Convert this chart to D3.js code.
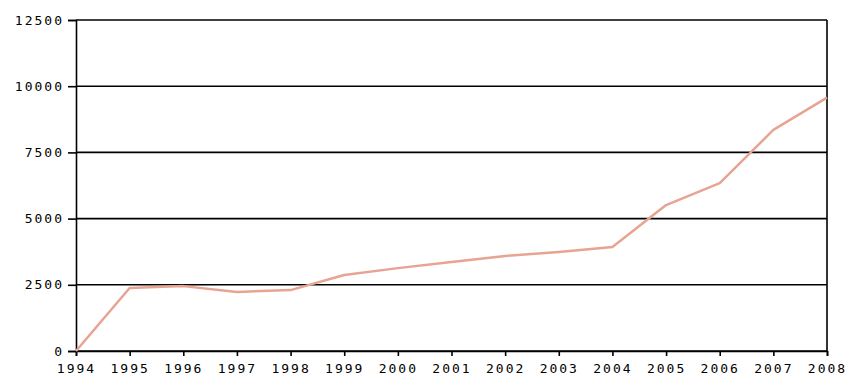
<!DOCTYPE html>
<html>
  <head>
    <meta charset="utf-8">
    <script src="https://cdn.jsdelivr.net/npm/d3@7"></script>
    <style>
body { margin: 0; background: #fff; }
.tick text {
  font-family: "DejaVu Sans Mono", monospace;
  font-size: 13px;
  letter-spacing: 2px;
  fill: #000;
}
.grid line { stroke: #000; stroke-width: 1.6px; }
.series { fill: none; stroke: #e8a393; stroke-width: 2.5px; stroke-linejoin: round; }
    </style>
  </head>
  <body>
    <script>

var years = [1994, 1995, 1996, 1997, 1998, 1999, 2000, 2001, 2002, 2003, 2004, 2005, 2006, 2007, 2008];
var values = [0, 2380, 2450, 2230, 2300, 2870, 3130, 3360, 3590, 3740, 3930, 5510, 6340, 8350, 9570];
var yTicks = [0, 2500, 5000, 7500, 10000, 12500];

var width = 863, height = 390;
var margin = {left: 76, right: 36, top: 20, bottom: 39};

var svg = d3.select("body").append("svg")
    .attr("width", width)
    .attr("height", height);

var x = d3.scaleLinear()
    .domain([years[0], years[years.length - 1]])
    .range([margin.left, width - margin.right]);

var y = d3.scaleLinear()
    .domain([0, 12500])
    .range([height - margin.bottom, margin.top]);

// horizontal grid
svg.append("g").attr("class", "grid")
  .selectAll("line").data(yTicks).enter().append("line")
    .attr("x1", margin.left).attr("x2", width - margin.right)
    .attr("y1", function(d) { return y(d); })
    .attr("y2", function(d) { return y(d); });

// right border
svg.append("line")
    .attr("x1", x(2008)).attr("x2", x(2008))
    .attr("y1", y(0)).attr("y2", y(12500))
    .attr("stroke", "#000").attr("stroke-width", 1.6);

var yAxis = svg.append("g")
    .attr("transform", "translate(" + margin.left + ",0)")
    .call(d3.axisLeft(y).tickValues(yTicks).tickSize(8).tickPadding(4).tickFormat(d3.format("d")));

var xAxis = svg.append("g")
    .attr("transform", "translate(0," + y(0) + ")")
    .call(d3.axisBottom(x).tickValues(years).tickSize(5).tickPadding(8).tickFormat(d3.format("d")));

[yAxis, xAxis].forEach(function(a) {
  a.select(".domain").attr("stroke", "#000").attr("stroke-width", 1.6);
  a.selectAll(".tick line").attr("stroke", "#000").attr("stroke-width", 1.6);
});

var line = d3.line()
    .x(function(d, i) { return x(years[i]); })
    .y(function(d) { return y(d); });

svg.append("path")
    .datum(values)
    .attr("class", "series")
    .attr("d", line);

    </script>
  </body>
</html>
